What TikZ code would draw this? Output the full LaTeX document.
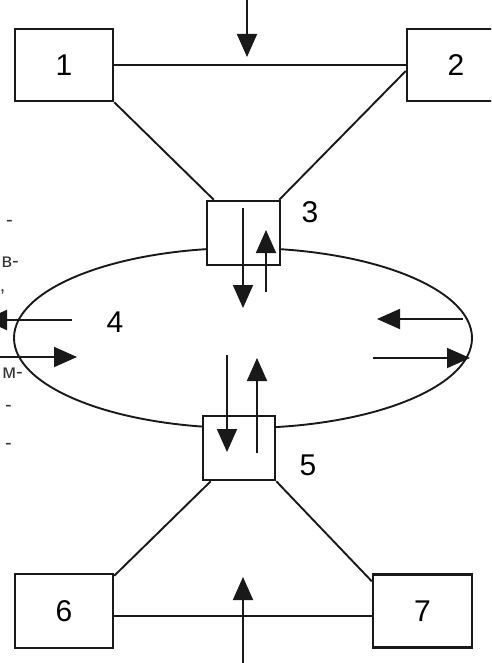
\documentclass[tikz,border=0pt]{standalone}
\usepackage{fontspec}
\setmainfont{Liberation Sans}
\usetikzlibrary{arrows.meta,shapes.geometric}
\tikzset{
  blk/.style={rectangle, draw=black!90, line width=2.5pt, fill=white,
    inner sep=0pt, font=\fontsize{30}{34}\selectfont},
  conn/.style={draw=black!90, line width=1.9pt},
  flow/.style={-{Triangle[length=23pt,width=20pt]}, line width=1.9pt, draw=black!90},
}

\begin{document}
\begin{tikzpicture}[x=1pt, y=-1pt,
  num/.style={font=\fontsize{30}{34}\selectfont, inner sep=0pt},
  frag/.style={font=\fontsize{20}{24}\selectfont, inner sep=0pt, anchor=east, text=black!80},
  ring/.style={ellipse, draw=black!90, line width=1.9pt, inner sep=0pt,
               minimum width=458pt, minimum height=180pt},
]
\useasboundingbox (0,0) rectangle (491,663);
\clip (0,0) rectangle (491,663);
% ring
\node[ring] (r4) at (243,338) {};
\node[num] (n4) at (115,322) {4};
% boxes
\node[blk, minimum width=98pt, minimum height=72pt] (b1) at (64,65)    {1};
\node[blk, minimum width=98pt, minimum height=72pt] (b2) at (456,65)   {2};
\node[blk, minimum width=73pt, minimum height=64pt] (b3) at (243.5,233) {};
\node[blk, minimum width=72pt, minimum height=64pt] (b5) at (239,448)  {};
\node[blk, minimum width=98pt, minimum height=74pt] (b6) at (64,611)   {6};
\node[blk, minimum width=99pt, minimum height=73pt] (b7) at (422.5,611) {7};
\node[num] (n3) at (310,212) {3};
\node[num] (n5) at (308,465) {5};
% side text, cut at the edge
\node[frag] (f1) at (13,223) {-};
\node[frag] (f2) at (19,262) {в-};
\node[frag] (f3) at (5,297)  {'};
\node[frag] (f4) at (23,373) {м-};
\node[frag] (f5) at (12,408) {-};
\node[frag] (f6) at (12,446) {-};
% connectors
\draw[conn] (b1) -- (b2);
\draw[conn] (b1.south east) -- ([xshift=8pt]b3.north west);
\draw[conn] ([yshift=-6pt]b2.west) -- ([xshift=-2pt]b3.north east);
\draw[conn] ([xshift=9pt]b5.south west) -- ([yshift=-3pt]b6.north east);
\draw[conn] (b5.south east) -- ([yshift=-8pt]b7.north west);
\draw[conn] ([yshift=-5pt]b6.east) -- ([yshift=-5pt]b7.west);
% flow ends
\coordinate (topIn)  at (247,0);   \coordinate (topTip) at (247,57);
\coordinate (botIn)  at (243,663); \coordinate (botTip) at (243,577);
\coordinate (d3s) at (243,208); \coordinate (d3e) at (243,308);
\coordinate (u3s) at (266,292); \coordinate (u3e) at (266,230);
\coordinate (d5s) at (227,355); \coordinate (d5e) at (227,452);
\coordinate (u5s) at (257,453); \coordinate (u5e) at (257,358);
\coordinate (lOutS) at (72,320);  \coordinate (lOutE) at (-16,320);
\coordinate (lInS)  at (-5,357);  \coordinate (lInE)  at (77,357);
\coordinate (rInS)  at (463,319); \coordinate (rInE)  at (377,319);
\coordinate (rOutS) at (373,358); \coordinate (rOutE) at (470,358);
% flows
\draw[flow] (topIn) -- (topTip);
\draw[flow] (botIn) -- (botTip);
\draw[flow] (d3s) -- (d3e);
\draw[flow] (u3s) -- (u3e);
\draw[flow] (d5s) -- (d5e);
\draw[flow] (u5s) -- (u5e);
\draw[flow] (lOutS) -- (lOutE);
\draw[flow] (lInS) -- (lInE);
\draw[flow] (rInS) -- (rInE);
\draw[flow] (rOutS) -- (rOutE);
\end{tikzpicture}
\end{document}
